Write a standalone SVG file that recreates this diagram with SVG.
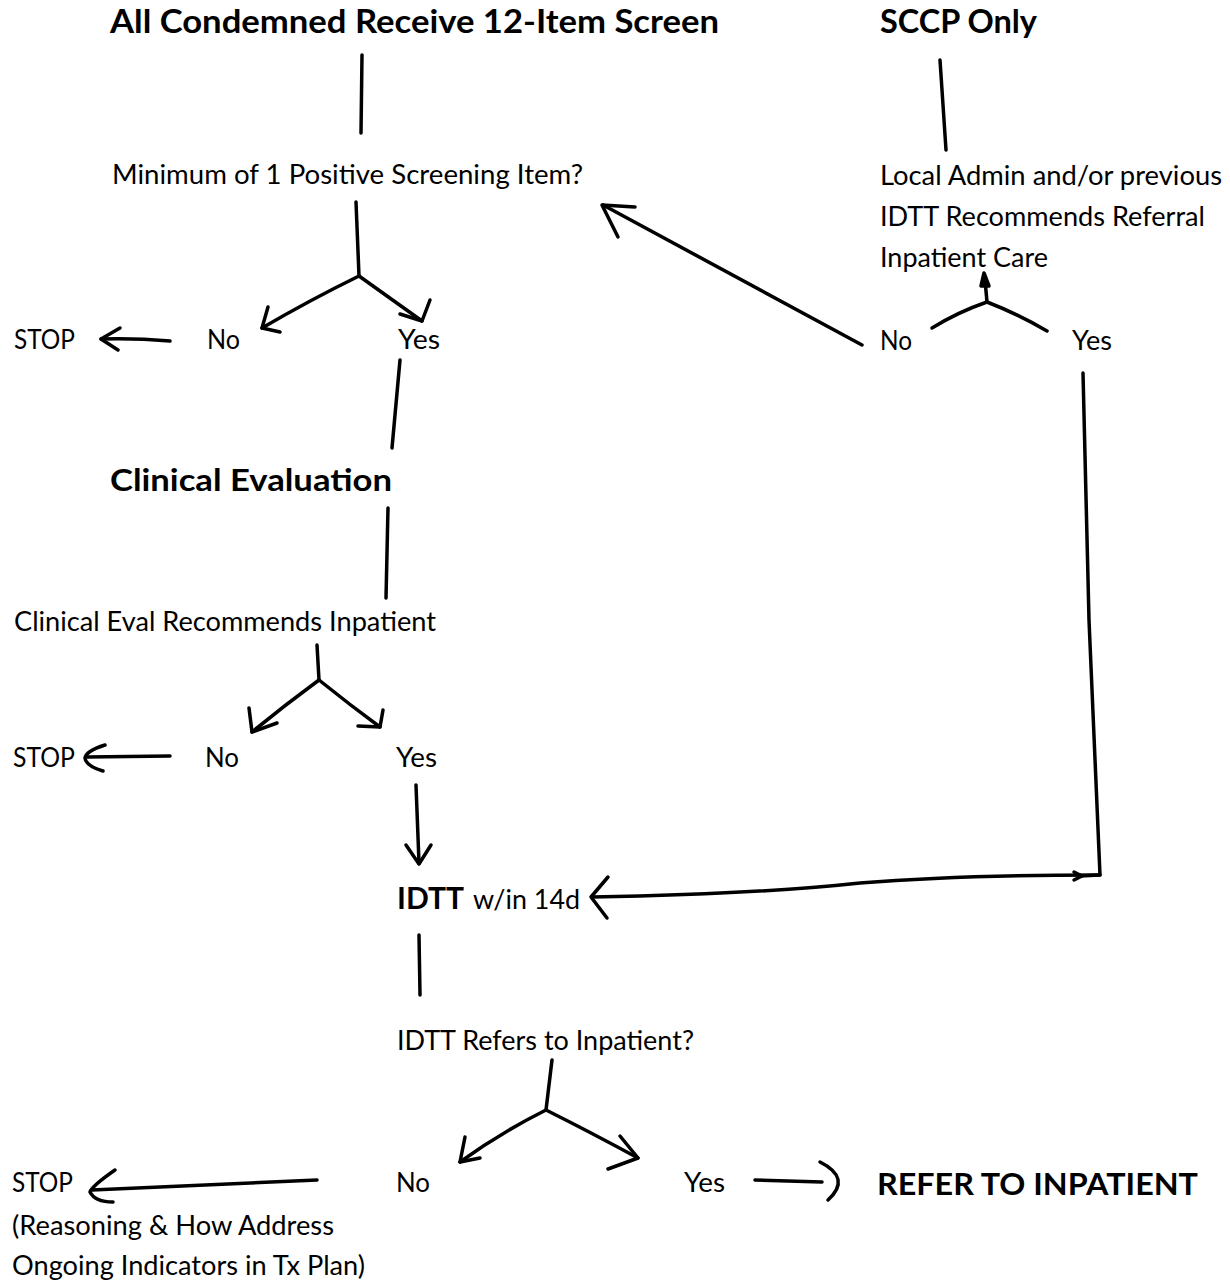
<svg xmlns="http://www.w3.org/2000/svg" width="1230" height="1286" viewBox="0 0 1230 1286">
<style>
  text { font-family: Lato, "Noto Sans", "Liberation Sans", sans-serif; fill: #000; }
  .t { font-size: 26px; }
  .b { font-size: 33px; font-weight: bold; }
  .bm { font-size: 30px; font-weight: bold; }
  .c path, .c line, .c polyline { fill: none; stroke: #000; stroke-width: 3.5; stroke-linecap: round; stroke-linejoin: round; }
</style>
<rect width="1230" height="1286" fill="#fff"/>

<g id="n-screen"><text class="b" x="110" y="33" textLength="609" lengthAdjust="spacingAndGlyphs">All Condemned Receive 12-Item Screen</text></g>
<g id="n-sccp"><text class="b" x="880" y="33" textLength="157" lengthAdjust="spacingAndGlyphs">SCCP Only</text></g>
<g id="n-minimum"><text class="t" x="112" y="184" textLength="471" lengthAdjust="spacingAndGlyphs">Minimum of 1 Positive Screening Item?</text></g>
<g id="n-local">
  <text class="t" x="880" y="185" textLength="342" lengthAdjust="spacingAndGlyphs">Local Admin and/or previous</text>
  <text class="t" x="880" y="226" textLength="325" lengthAdjust="spacingAndGlyphs">IDTT Recommends Referral</text>
  <text class="t" x="880" y="267" textLength="168" lengthAdjust="spacingAndGlyphs">Inpatient Care</text>
</g>
<g id="n-stop1"><text class="t" x="14" y="349" textLength="61" lengthAdjust="spacingAndGlyphs">STOP</text></g>
<g id="n-no1"><text class="t" x="207" y="349" textLength="33" lengthAdjust="spacingAndGlyphs">No</text></g>
<g id="n-yes1"><text class="t" x="398" y="349" textLength="42" lengthAdjust="spacingAndGlyphs">Yes</text></g>
<g id="n-no-r"><text class="t" x="880" y="350" textLength="32" lengthAdjust="spacingAndGlyphs">No</text></g>
<g id="n-yes-r"><text class="t" x="1072" y="350" textLength="40" lengthAdjust="spacingAndGlyphs">Yes</text></g>
<g id="n-clinical"><text class="bm" x="110" y="491" textLength="282" lengthAdjust="spacingAndGlyphs">Clinical Evaluation</text></g>
<g id="n-recommends"><text class="t" x="14" y="631" textLength="422" lengthAdjust="spacingAndGlyphs">Clinical Eval Recommends Inpatient</text></g>
<g id="n-stop2"><text class="t" x="13" y="767" textLength="62" lengthAdjust="spacingAndGlyphs">STOP</text></g>
<g id="n-no2"><text class="t" x="205" y="767" textLength="34" lengthAdjust="spacingAndGlyphs">No</text></g>
<g id="n-yes2"><text class="t" x="396" y="767" textLength="41" lengthAdjust="spacingAndGlyphs">Yes</text></g>
<g id="n-idtt">
  <text class="bm" x="397" y="909" textLength="67" lengthAdjust="spacingAndGlyphs">IDTT</text>
  <text class="t" x="473" y="909" textLength="107" lengthAdjust="spacingAndGlyphs">w/in 14d</text>
</g>
<g id="n-refers"><text class="t" x="397" y="1050" textLength="297" lengthAdjust="spacingAndGlyphs">IDTT Refers to Inpatient?</text></g>
<g id="n-stop3">
  <text class="t" x="12" y="1192" textLength="61" lengthAdjust="spacingAndGlyphs">STOP</text>
  <text class="t" x="12" y="1235" textLength="322" lengthAdjust="spacingAndGlyphs">(Reasoning &amp; How Address</text>
  <text class="t" x="12" y="1275" textLength="353" lengthAdjust="spacingAndGlyphs">Ongoing Indicators in Tx Plan)</text>
</g>
<g id="n-no3"><text class="t" x="396" y="1192" textLength="34" lengthAdjust="spacingAndGlyphs">No</text></g>
<g id="n-yes3"><text class="t" x="684" y="1192" textLength="41" lengthAdjust="spacingAndGlyphs">Yes</text></g>
<g id="n-refer"><text class="bm" x="877" y="1195" textLength="321" lengthAdjust="spacingAndGlyphs">REFER TO INPATIENT</text></g>

<g id="connectors" class="c">
  <!-- top left stem -->
  <path d="M362,55 L361,133"/>
  <!-- SCCP stem -->
  <path d="M940,60 L946,150"/>
  <!-- branch 1 -->
  <path d="M356,202 L359,276"/>
  <path d="M359,276 Q310,300 262,328"/>
  <path d="M268,307 L262,328 L280,332"/>
  <path d="M359,276 Q390,298 422,321"/>
  <path d="M430,300 L422,321 L400,314"/>
  <!-- STOP 1 -->
  <path d="M170,341 Q135,338 101,339"/>
  <path d="M120,328 L101,339 L118,350"/>
  <!-- Yes down to Clinical Evaluation -->
  <path d="M400,360 L392,448"/>
  <!-- Clinical Evaluation down -->
  <path d="M388,508 L386,598"/>
  <!-- branch 2 -->
  <path d="M317,645 L319,680"/>
  <path d="M319,680 Q285,705 252,732"/>
  <path d="M249,708 L252,732 L277,723"/>
  <path d="M319,680 Q350,705 380,727"/>
  <path d="M383,710 L380,727 L358,726"/>
  <!-- STOP 2 -->
  <path d="M170,756 L87,757"/>
  <path d="M105,745 Q86,751 85,758 Q86,766 103,771"/>
  <!-- Yes down to IDTT -->
  <path d="M416,785 L419,863"/>
  <path d="M406,845 L419,864 L431,845"/>
  <!-- right Yes to IDTT -->
  <path d="M1083,373 L1089,620 L1100,875 L1080,876"/>
  <path d="M1074,872 L1082,876 L1074,880"/>
  <path d="M1100,875 Q960,875 860,883 Q760,894 592,897"/>
  <path d="M608,877 L591,897 L607,918"/>
  <!-- IDTT down -->
  <path d="M419,935 L420,995"/>
  <!-- branch 3 -->
  <path d="M552,1060 L546,1110"/>
  <path d="M546,1110 Q500,1133 460,1162"/>
  <path d="M465,1137 L460,1162 L480,1158"/>
  <path d="M546,1110 Q590,1132 638,1158"/>
  <path d="M620,1136 L638,1158 L608,1169"/>
  <!-- STOP 3 -->
  <path d="M317,1180 L92,1190"/>
  <path d="M115,1170 Q92,1186 90,1192 Q95,1202 113,1202"/>
  <!-- Yes to REFER -->
  <path d="M755,1180 L822,1182"/>
  <path d="M820,1162 Q852,1178 828,1200"/>
  <!-- right branch -->
  <path d="M987,302 L985,280"/>
  <path d="M981,286 L984,273 L989,286 Z" style="fill:#000"/>
  <path d="M987,302 Q958,312 932,328"/>
  <path d="M987,302 Q1018,314 1047,331"/>
  <!-- right No back to Minimum -->
  <path d="M862,345 L603,205"/>
  <path d="M635,207 L602,205 L618,237"/>
</g>
</svg>
